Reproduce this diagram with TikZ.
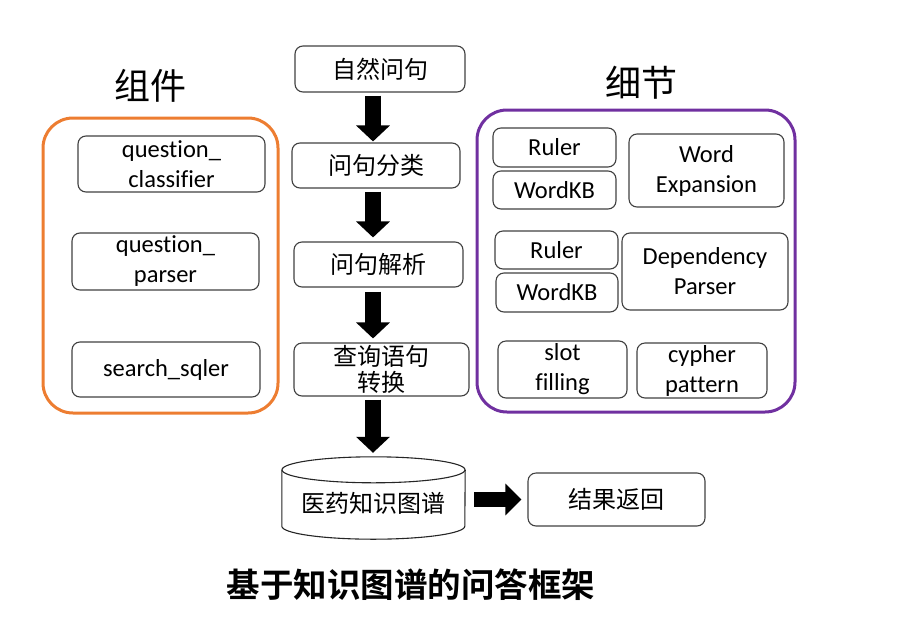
\documentclass[tikz,border=0pt]{standalone}
\usepackage{fontspec}
\setmainfont{Carlito}[Ligatures=NoCommon]
\newfontfamily\cjk{Noto Sans CJK SC}[BoldFont={Noto Sans CJK SC Bold}]
\usetikzlibrary{arrows.meta,calc}
\begin{document}
\begin{tikzpicture}[x=1pt,y=1pt,
  flowbox/.style={draw=black!75,line width=1.1pt,rounded corners=8pt,inner sep=0pt,
    font=\cjk\fontsize{24}{28}\selectfont,align=center},
  engbox/.style={draw=black!75,line width=1.1pt,rounded corners=8pt,inner sep=0pt,
    font=\fontsize{24.5}{30}\selectfont,align=center},
  bigarrow/.style={line width=16pt,-{Triangle[length=16pt,width=33pt]}},
  sidearrow/.style={line width=15pt,-{Triangle[length=16pt,width=31pt]}},
  grouplabel/.style={font=\cjk\fontsize{36}{40}\selectfont,inner sep=0pt}]
\useasboundingbox (0,0) rectangle (901,-640);
\coordinate (axis) at (373,0);
% flow boxes
\node[flowbox,minimum width=170pt,minimum height=46pt] (n1) at (380,-69) {自然问句};
\node[flowbox,minimum width=168pt,minimum height=45pt] (n2) at (376,-165.5) {问句分类};
\node[flowbox,minimum width=169pt,minimum height=45pt] (n3) at (378.5,-264.5) {问句解析};
\node[flowbox,minimum width=175pt,minimum height=53pt] (n4) at (381.5,-369.5) {查询语句\\[-2pt]转换};
% cylinder
\node[minimum width=183pt,minimum height=82pt,inner sep=0pt] (kg) at (373.5,-498) {};
\draw[draw=black!85,line width=1.1pt,fill=white]
  ($(kg.north west)+(0,-13)$) -- ($(kg.south west)+(0,13)$)
  arc[start angle=180,end angle=360,x radius=91.5pt,y radius=13pt]
  -- ($(kg.north east)+(0,-13)$);
\draw[draw=black!85,line width=1.1pt] ($(kg.north)+(0,-13)$) ellipse[x radius=91.5pt,y radius=13pt];
\node[font=\cjk\fontsize{24}{28}\selectfont] (kgtext) at (373.5,-503) {医药知识图谱};
\node[flowbox,minimum width=177pt,minimum height=53pt] (res) at (616.5,-499.5) {结果返回};
% arrows
\draw[bigarrow,shorten <=3pt,shorten >=1pt] (n1.south -| axis) -- (n2.north -| axis);
\draw[bigarrow,shorten <=3pt,shorten >=4pt] (n2.south -| axis) -- (n3.north -| axis);
\draw[bigarrow,shorten <=4pt,shorten >=4pt] (n3.south -| axis) -- (n4.north -| axis);
\draw[bigarrow,shorten <=3pt,shorten >=4pt] (n4.south -| axis) -- (kg.north -| axis);
\draw[sidearrow,shorten <=9pt,shorten >=6pt] (kg.east |- res) -- (res.west);
% title
\node[font=\cjk\bfseries\fontsize{33.5}{36}\selectfont,inner sep=0pt] (title) at (411,-585) {基于知识图谱的问答框架};
% left group
\node[grouplabel] (lbl1) at (150,-86) {组件};
\node[draw={rgb,255:red,237;green,125;blue,49},line width=3pt,rounded corners=30pt,
  minimum width=235pt,minimum height=295pt,inner sep=0pt] (grp1) at (160.5,-265.5) {};
\node[engbox,minimum width=187pt,minimum height=56pt] (qc) at (171.5,-164) {question\_\\classifier};
\node[engbox,minimum width=187pt,minimum height=57pt] (qp) at (165.5,-261.5) {question\_\\parser};
\node[engbox,minimum width=188pt,minimum height=55pt] (ss) at (166,-369.5) {search\_sqler};
% right group
\node[grouplabel] (lbl2) at (641,-83) {细节};
\node[draw={rgb,255:red,112;green,48;blue,160},line width=3pt,rounded corners=30pt,
  minimum width=318pt,minimum height=302pt,inner sep=0pt] (grp2) at (636,-261) {};
\node[engbox,minimum width=123pt,minimum height=39pt] (r1) at (554.5,-147.5) {Ruler};
\node[engbox,minimum width=123pt,minimum height=38pt] (w1) at (554.5,-190) {WordKB};
\node[engbox,minimum width=155pt,minimum height=73pt] (we) at (706.5,-170.5) {Word\\Expansion};
\node[engbox,minimum width=123pt,minimum height=38pt] (r2) at (556.5,-250) {Ruler};
\node[engbox,minimum width=122pt,minimum height=39pt] (w2) at (557,-292.5) {WordKB};
\node[engbox,minimum width=166pt,minimum height=77pt] (dp) at (705,-271.5) {Dependency\\Parser};
\node[engbox,minimum width=129pt,minimum height=57pt] (sf) at (562.5,-369.5) {slot\\filling};
\node[engbox,minimum width=130pt,minimum height=55pt] (cp) at (702,-370.5) {cypher\\pattern};
\end{tikzpicture}
\end{document}
